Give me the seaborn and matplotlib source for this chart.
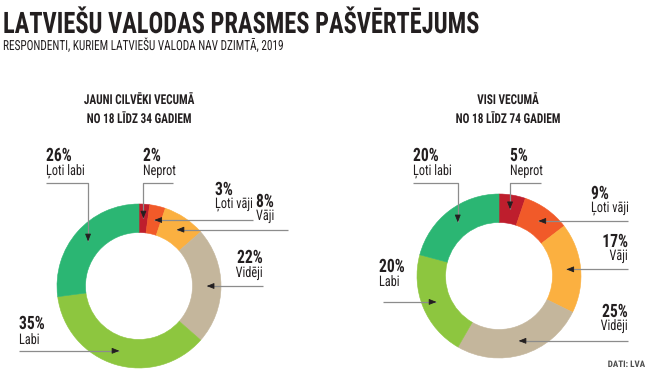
import matplotlib
matplotlib.use("Agg")
import numpy as np
import seaborn as sns
import matplotlib.pyplot as plt
from matplotlib import patheffects
from matplotlib.transforms import Affine2D

# ---- data ----
categories = ["Neprot", "Ļoti vāji", "Vāji", "Vidēji", "Labi", "Ļoti labi"]
young_values = [2, 3, 8, 22, 35, 26]
all_values = [5, 9, 17, 25, 20, 20]
palette = ["#be1e2d", "#f15a29", "#fbb040", "#c4b69c", "#8dc63f", "#2bb673"]

title = "LATVIEŠU VALODAS PRASMES PAŠVĒRTĒJUMS"
subtitle = "RESPONDENTI, KURIEM LATVIEŠU VALODA NAV DZIMTĀ, 2019"
young_head = ["JAUNI CILVĒKI VECUMĀ", "NO 18 LĪDZ 34 GADIEM"]
all_head = ["VISI VECUMĀ", "NO 18 LĪDZ 74 GADIEM"]
source = "DATI: LVA"

W, H = 650, 377
INK = "#231f20"
LINE = "#8c8c8c"
FONT = ["Roboto Condensed", "Roboto", "DejaVu Sans"]

sns.set_theme(style="white")
plt.rcParams["font.family"] = FONT


class Squeeze(patheffects.AbstractPathEffect):
    """narrow the glyphs a little more, keeping the aligned edge fixed"""

    def __init__(self, sx, ha="left"):
        super().__init__()
        self.sx = sx
        self.ha = ha

    def draw_path(self, renderer, gc, tpath, affine, rgbFace=None):
        xmax = tpath.vertices[:, 0].max() if len(tpath.vertices) else 0
        x0 = {"left": 0, "center": xmax / 2, "right": xmax}[self.ha]
        t = Affine2D().translate(-x0, 0).scale(self.sx, 1).translate(x0, 0) + affine
        renderer.draw_path(gc, tpath, t, rgbFace)


fig = plt.figure(figsize=(W / 100, H / 100), dpi=100)
ax = fig.add_axes([0, 0, 1, 1])


def txt(x, py, s, size, weight="normal", ha="left", sx=0.85, color=INK):
    ax.text(x, H - py, s, fontsize=size, fontweight=weight, ha=ha, va="baseline",
            color=color, path_effects=[Squeeze(sx, ha)])


# label layout per category: pct x, pct baseline, name baseline, align, line start x, elbow y
young_layout = [
    (143, 161, 175, "left", 173, 183),
    (215, 195, 208, "left", 253, None),
    (256, 207, 220, "left", 288, None),
    (263, 263, 277, "right", 263, None),
    (19, 329, 344, "left", 19, None),
    (46, 161, 175, "left", 46, 183),
]
all_layout = [
    (510, 161, 175, "left", 541, 183),
    (591, 199, 212, "left", 628, None),
    (628, 247, 260, "right", 628, None),
    (628, 317, 330, "right", 628, None),
    (379, 272, 286, "left", 383, None),
    (413, 161, 175, "left", 413, 183),
]

R, RING = 82, 28.5


def donut(values, center_px, layout):
    cx, cy = center_px[0], H - center_px[1]
    wedges, _ = ax.pie(values, colors=sns.color_palette(palette), startangle=90,
                       counterclock=False, radius=R, center=(cx, cy),
                       wedgeprops=dict(width=RING, linewidth=0.4))
    for w in wedges:
        w.set_edgecolor(w.get_facecolor())
    rmid = R - RING / 2
    for w, name, val, (px, pb, nb, ha, lx, elbow) in zip(wedges, categories, values, layout):
        ang = np.deg2rad((w.theta1 + w.theta2) / 2)
        tx, ty = cx + rmid * np.cos(ang), cy + rmid * np.sin(ang)
        if elbow is not None:
            ey = H - elbow
            ax.plot([lx, tx, tx], [ey, ey, ty], color=LINE, lw=0.9, solid_capstyle="butt")
            tail = (tx, ty + 6)
        else:
            ax.plot([lx, tx], [ty, ty], color=LINE, lw=0.9, solid_capstyle="butt")
            tail = (tx + (6 if lx > tx else -6), ty)
        ax.annotate("", xy=(tx, ty), xytext=tail,
                    arrowprops=dict(arrowstyle="-|>,head_length=0.55,head_width=0.22",
                                    color=INK, lw=0.6, shrinkA=0, shrinkB=0,
                                    mutation_scale=8))
        txt(px, pb, f"{val}%", 13.2, "bold", ha, sx=0.85)
        txt(px, nb, name, 10.5, "normal", ha, sx=0.84)


donut(young_values, (139, 286), young_layout)
donut(all_values, (499, 276), all_layout)

txt(3, 33, title, 21.3, "bold", sx=0.826)
txt(3, 50, subtitle, 10, "normal", sx=0.81)
for cx, lines in ((139, young_head), (508, all_head)):
    txt(cx, 104, lines[0], 9.8, "bold", "center", sx=0.83)
    txt(cx, 123, lines[1], 9.8, "bold", "center", sx=0.83)
txt(645, 367, source, 6.5, "bold", "right", sx=1.0, color="#4d4d4d")

ax.set_xlim(0, W)
ax.set_ylim(0, H)
ax.set_aspect("auto")
ax.axis("off")
fig.savefig("out.png", dpi=100, facecolor="white")
